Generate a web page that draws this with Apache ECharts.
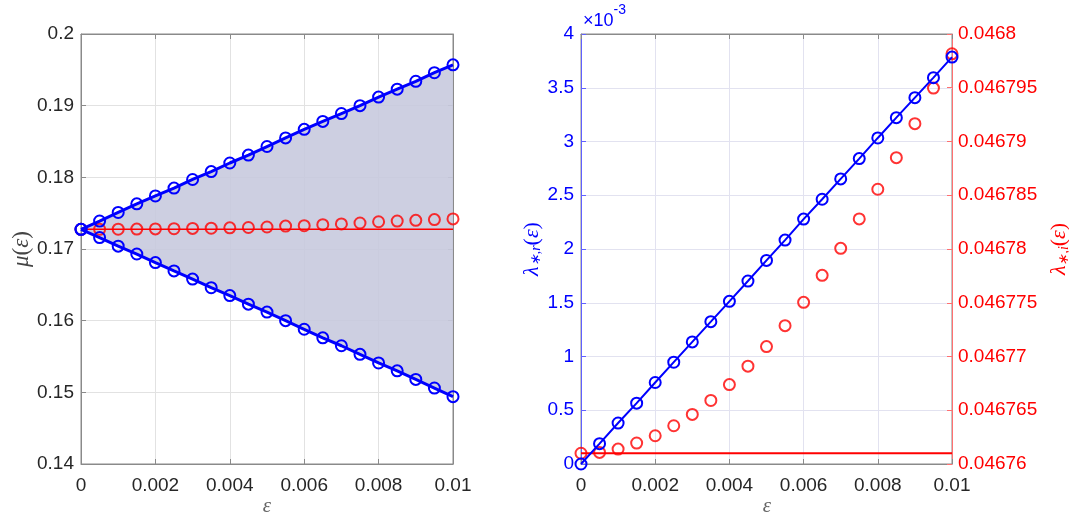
<!DOCTYPE html>
<html>
<head>
<meta charset="utf-8">
<script src="https://cdn.jsdelivr.net/npm/echarts@6/dist/echarts.min.js"></script>
<style>html,body{margin:0;padding:0;background:#fff}#c{width:1069px;height:512px}</style>
</head>
<body>
<div id="c"></div>
<script>
// ---- data ----
const eps = [0,0.0005,0.001,0.0015,0.002,0.0025,0.003,0.0035,0.004,0.0045,0.005,0.0055,0.006,0.0065,0.007,0.0075,0.008,0.0085,0.009,0.0095,0.01];
const muUpper = [0.17275,0.1739,0.1751,0.1763,0.1774,0.1785,0.1797,0.1808,0.1820,0.1831,0.1843,0.1855,0.1867,0.1878,0.1889,0.1900,0.1912,0.1923,0.1934,0.1946,0.1957];
const muLower = [0.17275,0.1716,0.1704,0.1693,0.1681,0.16694,0.1658,0.1646,0.1635,0.1623,0.1612,0.1600,0.1588,0.1576,0.1565,0.1553,0.1541,0.1530,0.1518,0.1506,0.1494];
const muCenter = [0.17275,0.17275,0.17276,0.17278,0.1728,0.17283,0.17287,0.1729,0.17295,0.1730,0.17307,0.1732,0.17325,0.1734,0.1735,0.17363,0.1738,0.1739,0.1740,0.1741,0.1742];
const muCenterLine = [[0,0.17275],[0.01,0.17275]];
const lambdaR_e3 = [0,0.189,0.381,0.566,0.758,0.947,1.136,1.324,1.513,1.702,1.894,2.083,2.278,2.463,2.652,2.841,3.033,3.222,3.408,3.594,3.785];
const lambdaI = [0.04676100,0.04676108,0.04676139,0.04676195,0.04676263,0.04676356,0.04676461,0.04676591,0.04676739,0.04676910,0.04677092,0.04677287,0.04677504,0.04677755,0.04678006,0.04678280,0.04678556,0.04678850,0.04679166,0.04679497,0.04679816];
const lambdaILine = [[0,0.046761],[0.01,0.046761]];
const xTicks = {min:0, max:0.01, interval:0.002};
const muTicks = {min:0.14, max:0.2, interval:0.01};
const lrTicks = {min:0, max:4, interval:0.5};
const liTicks = {min:0.04676, max:0.0468, interval:0.000005};

// ---- helpers ----
const pair = (xs, ys) => xs.map((x,i)=>[x, ys[i]]);
const BLUE = '#0000ff', RED = '#ff0000', DARK = '#262626';
const tickFont = {fontFamily:'Liberation Sans, Arial, sans-serif', fontSize:19};
const fmt = v => String(+v.toFixed(7));
const serif = 'Liberation Serif, serif';

function xAx(gi, top){
  return {type:'value', gridIndex:gi, position: top?'top':'bottom', min:xTicks.min, max:xTicks.max, interval:xTicks.interval,
    axisLine:{show:true, onZero:false, lineStyle:{color:'#8a8a8a', width:1}},
    axisTick:{show:true, inside:true, length:5, lineStyle:{color:'#8a8a8a'}},
    axisLabel:{show:!top, color:DARK, margin:12, ...tickFont, formatter:fmt},
    splitLine:{show:!top, lineStyle:{color: gi===0?'#e2e2e2':'#e2e2f0', width:1}}
  };
}
function lamName(color){
  return {color, rich:{
    i:{fontFamily:serif, fontStyle:'italic', fontSize:22, color},
    n:{fontFamily:serif, fontSize:22, color},
    s:{fontFamily:serif, fontStyle:'italic', fontSize:14, color, verticalAlign:'bottom', padding:[9,0,0,0]}}};
}
function epsLabel(x){
  return {type:'text', x:x, y:506, style:{text:'ε', fill:'#666', font:'italic 21px "Liberation Serif", serif', textAlign:'center', textVerticalAlign:'middle'}};
}

const option = {
  animation:false,
  backgroundColor:'#fff',
  grid:[
    {left:81, right:616, top:34, bottom:48, containLabel:false, outerBoundsMode:'none', show:true, borderColor:'#8a8a8a', borderWidth:1, backgroundColor:'transparent'},
    {left:581, right:117, top:34, bottom:48, containLabel:false, outerBoundsMode:'none', show:true, borderColor:'#8a8a8a', borderWidth:1, backgroundColor:'transparent'}
  ],
  xAxis:[ xAx(0,false), xAx(0,true), xAx(1,false), xAx(1,true) ],
  yAxis:[
    {type:'value', gridIndex:0, position:'left', ...muTicks,
      axisLine:{show:true, onZero:false, lineStyle:{color:'#8a8a8a'}},
      axisTick:{show:true, inside:true, length:5, lineStyle:{color:'#8a8a8a'}},
      axisLabel:{color:DARK, margin:7, ...tickFont, formatter:fmt},
      splitLine:{show:true, lineStyle:{color:'#e2e2e2'}},
      name:'{i|μ}{n|(}{i|ε}{n|)}', nameLocation:'middle', nameGap:47, nameRotate:90,
      nameTextStyle:{color:'#444', rich:{i:{fontFamily:serif, fontStyle:'italic', fontSize:23, color:'#444'}, n:{fontFamily:serif, fontSize:23, color:'#444'}}}
    },
    {type:'value', gridIndex:0, position:'right', ...muTicks,
      axisLine:{show:true, onZero:false, lineStyle:{color:'#8a8a8a'}},
      axisTick:{show:true, inside:true, length:5, lineStyle:{color:'#8a8a8a'}},
      axisLabel:{show:false}, splitLine:{show:false}
    },
    {type:'value', gridIndex:1, position:'left', ...lrTicks,
      axisLine:{show:true, onZero:false, lineStyle:{color:'#6060ff'}},
      axisTick:{show:true, inside:true, length:5, lineStyle:{color:'#6060ff'}},
      axisLabel:{color:BLUE, margin:7, ...tickFont, formatter:fmt},
      splitLine:{show:true, lineStyle:{color:'#e2e2f0'}},
      name:'{i|λ}{s|∗,r}{n|(}{i|ε}{n|)}', nameLocation:'middle', nameGap:32, nameRotate:90,
      nameTextStyle:lamName(BLUE)
    },
    {type:'value', gridIndex:1, position:'right', ...liTicks,
      axisLine:{show:true, onZero:false, lineStyle:{color:'#ff7070'}},
      axisTick:{show:true, inside:true, length:5, lineStyle:{color:'#ff7070'}},
      axisLabel:{color:RED, margin:6, ...tickFont, formatter:fmt},
      splitLine:{show:false},
      name:'{i|λ}{s|∗,i}{n|(}{i|ε}{n|)}', nameLocation:'middle', nameGap:96, nameRotate:90,
      nameTextStyle:lamName(RED)
    }
  ],
  graphic:[
    {type:'text', left:583, top:3, style:{text:'{a|×10}{b|-3}', rich:{a:{fontFamily:'Liberation Sans, Arial, sans-serif', fontSize:18, fill:BLUE, color:BLUE, padding:[9,0,0,0]}, b:{fontFamily:'Liberation Sans, Arial, sans-serif', fontSize:14, fill:BLUE, color:BLUE, verticalAlign:'top'}}}},
    epsLabel(267),
    epsLabel(767)
  ],
  series:[
    {type:'custom', xAxisIndex:0, yAxisIndex:0, data:[0], silent:true, z:1,
      renderItem:(params, api)=>{
        const pts = eps.map((x,i)=>api.coord([x, muUpper[i]]))
          .concat(eps.map((x,i)=>api.coord([x, muLower[i]])).reverse());
        return {type:'polygon', shape:{points:pts}, style:{fill:'rgba(200,202,222,0.9)', stroke:null}};
      }},
    {type:'line', xAxisIndex:0, yAxisIndex:0, data:muCenterLine, symbol:'none', lineStyle:{color:RED, width:1.6}, z:3, clip:false},
    {type:'scatter', xAxisIndex:0, yAxisIndex:0, data:pair(eps, muCenter), symbol:'circle', symbolSize:11, itemStyle:{color:'rgba(0,0,0,0)', borderColor:RED, borderWidth:2}, z:4, clip:false},
    {type:'line', xAxisIndex:0, yAxisIndex:0, data:pair(eps, muUpper), symbol:'circle', symbolSize:11, showAllSymbol:true, lineStyle:{color:BLUE, width:3}, itemStyle:{color:'rgba(0,0,0,0)', borderColor:BLUE, borderWidth:2}, z:5, clip:false},
    {type:'line', xAxisIndex:0, yAxisIndex:0, data:pair(eps, muLower), symbol:'circle', symbolSize:11, showAllSymbol:true, lineStyle:{color:BLUE, width:3}, itemStyle:{color:'rgba(0,0,0,0)', borderColor:BLUE, borderWidth:2}, z:5, clip:false},
    {type:'line', xAxisIndex:2, yAxisIndex:3, data:lambdaILine, symbol:'none', lineStyle:{color:RED, width:2}, z:3, clip:false},
    {type:'scatter', xAxisIndex:2, yAxisIndex:3, data:pair(eps, lambdaI), symbol:'circle', symbolSize:11, itemStyle:{color:'rgba(0,0,0,0)', borderColor:RED, borderWidth:2}, z:4, clip:false},
    {type:'line', xAxisIndex:2, yAxisIndex:2, data:pair(eps, lambdaR_e3), symbol:'circle', symbolSize:11, showAllSymbol:true, lineStyle:{color:BLUE, width:2}, itemStyle:{color:'rgba(0,0,0,0)', borderColor:BLUE, borderWidth:2}, z:5, clip:false}
  ]
};
const chart = echarts.init(document.getElementById('c'), null, {renderer:'canvas'});
chart.setOption(option);
</script>
</body>
</html>
